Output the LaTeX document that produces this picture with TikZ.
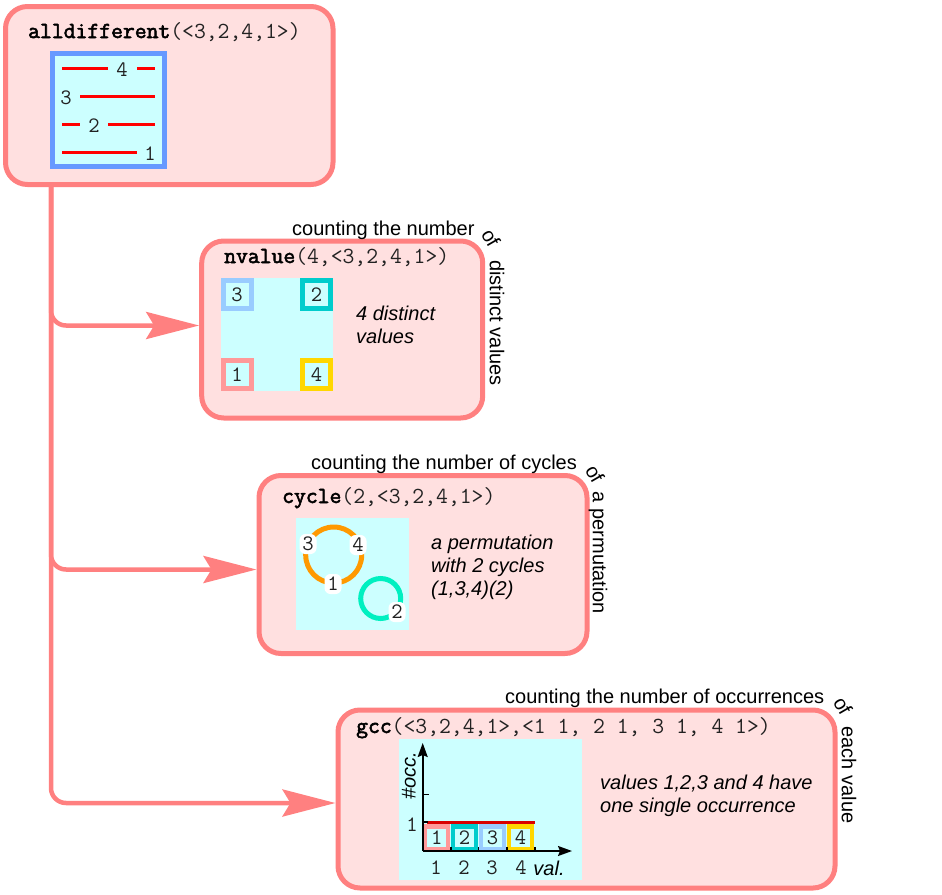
\documentclass[tikz,border=0pt]{standalone}
\usepackage{fontspec}
\setmainfont{Liberation Sans}
\setmonofont{Latin Modern Mono}[BoldFont=Latin Modern Mono,BoldFeatures={FakeBold=2.5}]
\usetikzlibrary{arrows.meta}
\definecolor{linkc}{HTML}{FF8080}
\definecolor{boxfill}{HTML}{FFE0E0}
\definecolor{panelc}{HTML}{CCFFFF}
\definecolor{framec}{HTML}{6699FF}
\definecolor{vA}{HTML}{FF9999}
\definecolor{vB}{HTML}{00CCCC}
\definecolor{vC}{HTML}{99CCFF}
\definecolor{vD}{HTML}{FFD700}
\definecolor{orangec}{HTML}{FF9900}
\definecolor{tealc}{HTML}{00F0C0}
\definecolor{digitc}{HTML}{222222}
\tikzset{
  x=1pt,y=-1pt,
  bigbox/.style={draw=linkc,fill=boxfill,line width=5pt,rounded corners=22pt,anchor=north west,inner sep=0pt},
  panel/.style={fill=panelc,draw=none,anchor=north west,inner sep=0pt},
  link/.style={draw=linkc,line width=4.5pt,rounded corners=15pt,-{Stealth[length=53pt,width=27pt,inset=8pt]}},
  head/.style={anchor=base west,inner sep=0pt,font=\fontsize{23}{24}\selectfont\ttfamily,text=digitc},
  digit/.style={inner sep=0pt,font=\fontsize{22}{24}\selectfont\ttfamily,text=digitc},
  note/.style={anchor=base west,inner sep=0pt,align=left,font=\fontsize{20}{23}\selectfont\itshape},
  side/.style={inner sep=0pt,font=\fontsize{20}{22}\selectfont},
  redline/.style={draw=red,line width=3pt},
  valsq/.style={line width=5pt,fill=panelc,minimum size=28pt,inner sep=0pt,font=\fontsize{22}{24}\selectfont\ttfamily,text=digitc},
  cyclab/.style={fill=white,rounded corners=6pt,minimum width=17pt,minimum height=20pt,inner sep=0pt,font=\fontsize{22}{24}\selectfont\ttfamily,text=digitc},
  axis/.style={draw=black,line width=1.6pt},
}
\begin{document}
\begin{tikzpicture}
\useasboundingbox (0,0) rectangle (942,894);
% boxes
\node[bigbox,minimum width=327.5pt,minimum height=178pt] (alldiff) at (3,4) {};
\node[bigbox,minimum width=281pt,minimum height=177pt] (nvalue) at (199.2,238.5) {};
\node[bigbox,minimum width=328pt,minimum height=178pt] (cycle) at (256.5,473) {};
\node[bigbox,minimum width=497pt,minimum height=178pt] (gcc) at (335.5,707.5) {};
% connectors
\coordinate (trunk) at (51,184);
\draw[link] (trunk) |- ([yshift=4pt]nvalue.west);
\draw[link] (trunk) |- ([yshift=-5pt]cycle.west);
\draw[link] (trunk) |- ([yshift=-4pt]gcc.west);
% headers
\node[head] (h1) at (28,38) {\textbf{\textcolor{black}{alldifferent}}(<3,2,4,1>)};
\node[head] (h2) at (224,263) {\textbf{\textcolor{black}{nvalue}}(4,<3,2,4,1>)};
\node[head] (h3) at (282,503) {\textbf{\textcolor{black}{cycle}}(2,<3,2,4,1>)};
\node[head] (h4) at (356,733) {\textbf{\textcolor{black}{gcc}}(<3,2,4,1>,<1 1, 2 1, 3 1, 4 1>)};
% alldifferent panel
\node[draw=framec,fill=panelc,line width=5pt,minimum width=112pt,minimum height=113pt,anchor=north west,inner sep=0pt] (pa) at (49.5,51) {};
\draw[redline] (62,68) -- (108,68) (137,68) -- (155,68);
\draw[redline] (80,96) -- (155,96);
\draw[redline] (62,124) -- (80,124) (108,124) -- (155,124);
\draw[redline] (62,152) -- (137,152);
\node[digit] (a4) at (122,70) {4};
\node[digit] (a3) at (66,98) {3};
\node[digit] (a2) at (94,126) {2};
\node[digit] (a1) at (150,154) {1};
% nvalue panel
\node[panel,minimum width=112.5pt,minimum height=113pt] (pn) at (220.7,278) {};
\node[valsq,draw=vC] (n3) at (237,294.5) {3};
\node[valsq,draw=vB] (n2) at (316.5,294.5) {2};
\node[valsq,draw=vA] (n1) at (237,374.5) {1};
\node[valsq,draw=vD] (n4) at (316.5,374.5) {4};
\node[note] (tn) at (356,343) {4 distinct\\values};
% cycle panel
\node[panel,minimum width=113pt,minimum height=112.5pt] (pc) at (295.7,517.7) {};
\draw[orangec,line width=5pt] (333.7,555) circle[radius=28pt];
\draw[tealc,line width=5pt] (380.7,598.5) circle[radius=20pt];
\node[cyclab] (c3) at (308,544) {3};
\node[cyclab] (c4) at (358,545) {4};
\node[cyclab] (c1) at (333,584) {1};
\node[cyclab] (c2) at (397,612) {2};
\node[note] (tc) at (431,595) {a permutation\\with 2 cycles\\(1,3,4)(2)};
% gcc panel
\node[panel,minimum width=182.7pt,minimum height=141pt] (pg) at (399,738.3) {};
\node[valsq,draw=vA,line width=4.5pt,minimum size=23pt] (g1) at (436.7,838) {1};
\node[valsq,draw=vB,line width=4.5pt,minimum size=23pt] (g2) at (464.5,838) {2};
\node[valsq,draw=vC,line width=4.5pt,minimum size=23pt] (g3) at (492.5,838) {3};
\node[valsq,draw=vD,line width=4.5pt,minimum size=23pt] (g4) at (520.5,838) {4};
\draw[draw=red!85!black,line width=3pt] (427.3,822) -- (535,822);
\draw[axis,-{Stealth[length=14pt,width=10pt,inset=2pt]}] (422.7,851) -- (422.7,743);
\draw[axis,-{Stealth[length=14pt,width=10pt,inset=2pt]}] (422.7,851) -- (572,851);
\draw[axis] (422.7,794.3) -- (429,794.3) (422.7,822) -- (428,822);
\draw[axis] (450.7,851) -- (450.7,847) (478.3,851) -- (478.3,847) (506.7,851) -- (506.7,847) (535,851) -- (535,847);
\node[digit] (gy) at (412,825) {1};
\node[digit] (gx1) at (436,868) {1};
\node[digit] (gx2) at (464,868) {2};
\node[digit] (gx3) at (492,868) {3};
\node[digit] (gx4) at (521,868) {4};
\node[side,font=\fontsize{20}{22}\selectfont\itshape] (gv) at (549,868) {val.};
\node[side,rotate=90,font=\fontsize{20}{22}\selectfont\itshape] (go) at (409,776) {\#occ.};
\node[note] (tg) at (600,812) {values 1,2,3 and 4 have\\one single occurrence};
% side captions
\node[side,anchor=base west] (s1) at (292,235) {counting the number};
\node[side,rotate=-60] (s1b) at (491,238) {of};
\node[side,rotate=-90] (s1c) at (497,323) {distinct values};
\node[side,anchor=base west] (s2) at (311,469) {counting the number of cycles};
\node[side,rotate=-60] (s2b) at (595,474) {of};
\node[side,rotate=-90] (s2c) at (598,553) {a permutation};
\node[side,anchor=base west] (s3) at (505,703) {counting the number of occurrences};
\node[side,rotate=-60] (s3b) at (843,706) {of};
\node[side,rotate=-90] (s3c) at (849,775) {each value};
\end{tikzpicture}
\end{document}
